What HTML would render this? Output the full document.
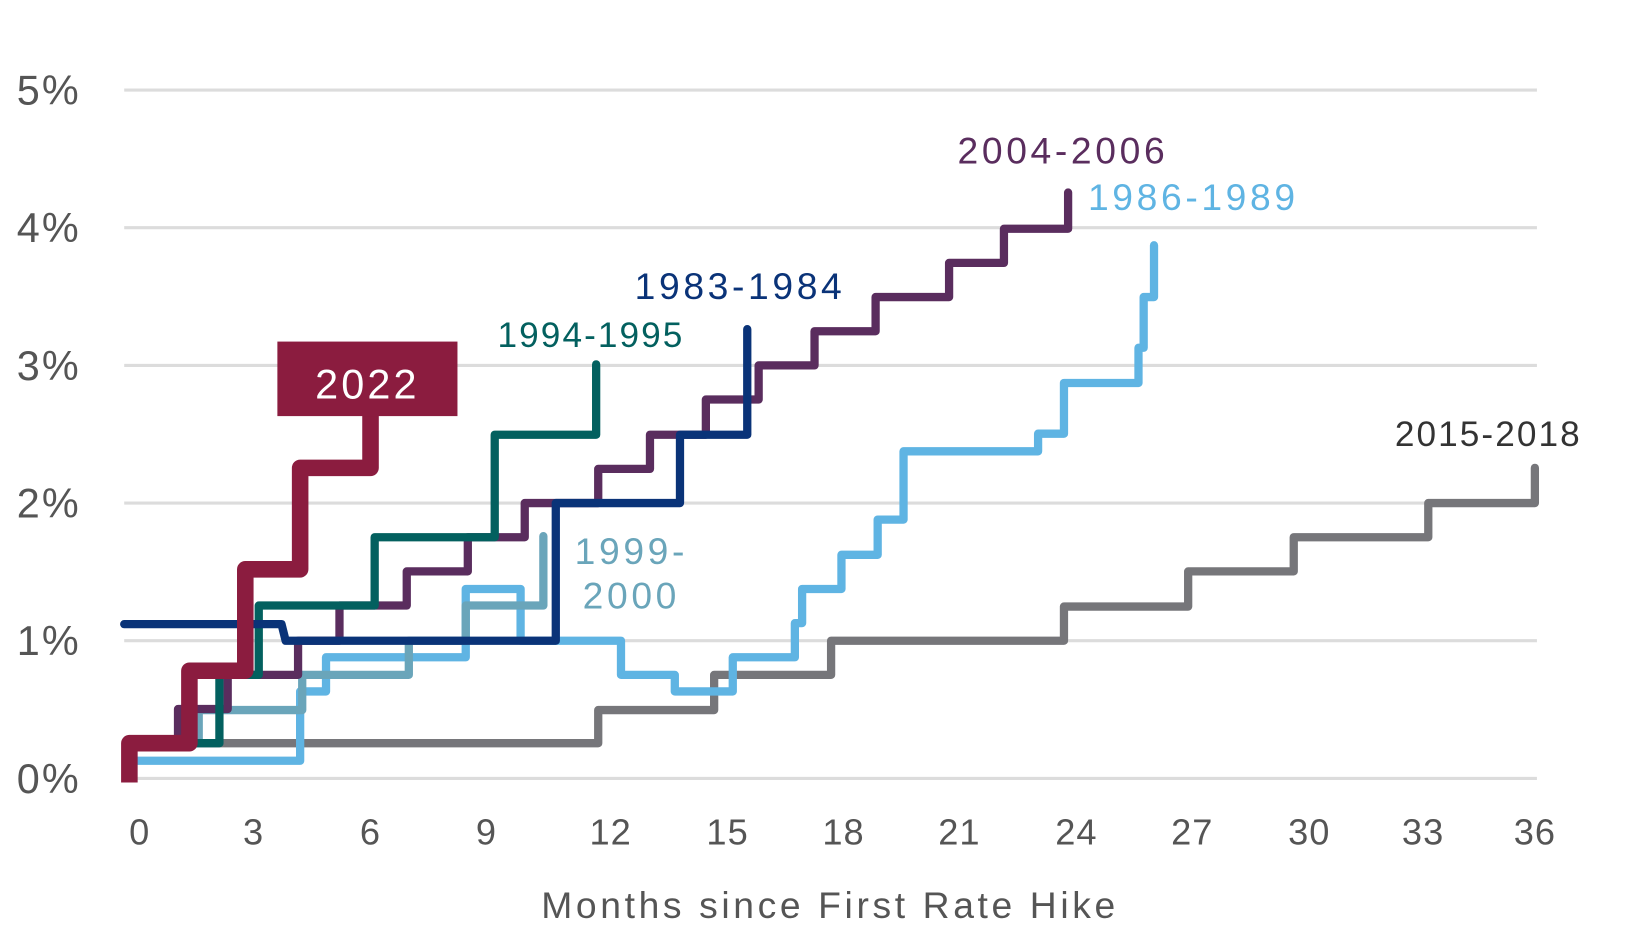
<!DOCTYPE html>
<html><head><meta charset="utf-8"><style>
html,body{margin:0;padding:0;background:#fff;width:1627px;height:944px;overflow:hidden}
svg{display:block}
text{font-family:"Liberation Sans",sans-serif}
</style></head><body>
<svg width="1627" height="944" viewBox="0 0 1572 912" preserveAspectRatio="none" xmlns="http://www.w3.org/2000/svg">
<g stroke="#dcdcdc" stroke-width="3">
<line x1="120" y1="87" x2="1485" y2="87"/><line x1="120" y1="220" x2="1485" y2="220"/>
<line x1="120" y1="353" x2="1485" y2="353"/><line x1="120" y1="486" x2="1485" y2="486"/>
<line x1="120" y1="619" x2="1485" y2="619"/><line x1="120" y1="752" x2="1485" y2="752"/>
</g>
<g fill="#555" font-size="40" text-anchor="end" letter-spacing="2">
<text x="78" y="101">5%</text><text x="78" y="234">4%</text><text x="78" y="367">3%</text>
<text x="78" y="500">2%</text><text x="78" y="633">1%</text><text x="78" y="766">0%</text>
</g>
<g fill="#555" font-size="35" text-anchor="middle" letter-spacing="1">
<text x="135" y="816">0</text><text x="245" y="816">3</text><text x="358" y="816">6</text>
<text x="470" y="816">9</text><text x="590" y="816">12</text><text x="703" y="816">15</text>
<text x="815" y="816">18</text><text x="927" y="816">21</text><text x="1040" y="816">24</text>
<text x="1152" y="816">27</text><text x="1265" y="816">30</text><text x="1375" y="816">33</text>
<text x="1483" y="816">36</text>
</g>
<text x="802" y="887" fill="#555" font-size="36" text-anchor="middle" letter-spacing="3.5">Months since First Rate Hike</text>
<g fill="none" stroke-width="8" stroke-linejoin="round" stroke-linecap="round">
<path stroke="#76767a" d="M130,718 H578 V686 H690 V652 H803 V619 H1028 V586 H1148 V552 H1250 V519 H1380 V486 H1483 V452"/>
<path stroke="#5fb4e3" d="M130,735 H290 V668 H315 V635 H450 V569 H503 V619 H600 V652 H652 V668 H708 V635 H768 V602 H775 V569 H813 V536 H848 V502 H873 V436 H1003 V419 H1028 V370 H1100 V336 H1105 V287 H1115 V237"/>
<path stroke="#6aa5ba" d="M130,718 H192 V686 H292 V652 H395 V619 H450 V585 H525 V518"/>
<path stroke="#5a2d5e" d="M130,718 H172 V685 H220 V652 H288 V619 H328 V585 H393 V552 H452 V519 H507 V486 H578 V453 H628 V420 H682 V386 H733 V353 H787 V320 H846 V287 H917 V254 H970 V221 H1032 V186"/>
<path stroke="#03605f" d="M130,718 H212 V652 H250 V585 H362 V519 H478 V420 H576 V352"/>
<path stroke="#0a3378" d="M120,603 H272 L276,619 H537 V486 H657 V420 H722 V318"/>
</g>
<path fill="none" stroke="#8b1c3f" stroke-width="16" stroke-linejoin="round" d="M125,756 V718 H183 V648 H237 V550 H290 V452 H358 V400"/>
<rect x="268" y="330" width="174" height="72" fill="#8b1c3f"/>
<text x="355" y="385" fill="#fff" font-size="40" text-anchor="middle" letter-spacing="3">2022</text>
<g font-size="36" text-anchor="middle" letter-spacing="3.5">
<text x="1027" y="158" fill="#5a2d5e">2004-2006</text>
<text x="1153" y="203" fill="#5fb4e3">1986-1989</text>
<text x="715" y="289" fill="#0a3378">1983-1984</text>
<text x="571" y="335" fill="#03605f" font-size="34" letter-spacing="2">1994-1995</text>
<text x="610" y="545" fill="#6aa5ba">1999-</text>
<text x="610" y="588" fill="#6aa5ba">2000</text>
<text x="1438" y="431" fill="#333" font-size="34" letter-spacing="2">2015-2018</text>
</g>
</svg>
</body></html>
